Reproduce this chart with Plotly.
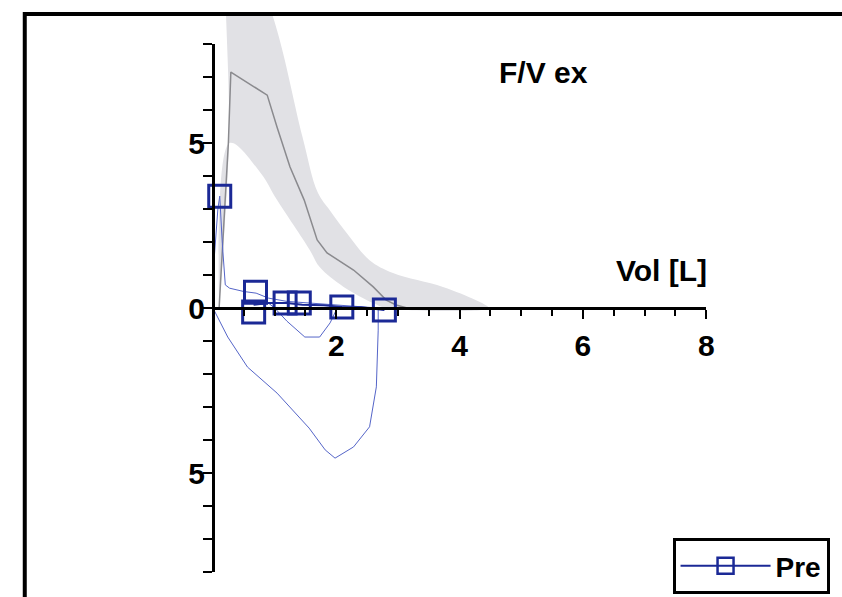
import plotly.graph_objects as go

# ---------------- data ----------------
# predicted expiratory flow-volume curve (grey line)
pred_vol = [0.10, 0.25, 0.29, 0.88, 1.04, 1.25, 1.48, 1.69, 1.85, 2.28, 2.60, 2.81, 2.97, 3.15]
pred_flow = [0.0, 5.0, 7.15, 6.45, 5.48, 4.27, 3.27, 2.06, 1.67, 1.15, 0.64, 0.24, 0.09, 0.0]

# predicted normal range (grey band)
band_upper_vol = [0.10, 0.26, 0.27, 0.96, 1.45, 1.70, 1.90, 2.20, 2.54, 2.92, 3.73, 4.26, 4.47]
band_upper_flow = [0.0, 5.0, 12.0, 8.9, 5.2, 3.5, 2.95, 2.2, 1.45, 1.06, 0.64, 0.24, 0.0]
band_lower_vol = [0.10, 0.27, 0.77, 1.04, 1.57, 1.73, 2.12, 2.60, 2.81]
band_lower_flow = [0.0, 5.0, 4.1, 3.27, 1.76, 1.24, 0.64, 0.15, 0.0]

# measured loop "Pre" (thin blue line)
loop_vol = [0.0, 0.02, 0.08, 0.11, 0.15, 0.20, 0.27, 0.50, 0.70, 0.90, 1.20, 1.60, 2.10, 2.50, 2.68,
            2.68, 2.68, 2.65, 2.54, 2.28, 1.98, 1.82, 1.56, 1.04, 0.56, 0.24, 0.05, 0.0]
loop_flow = [0.0, 1.5, 3.0, 3.39, 2.0, 0.7, 0.6, 0.5, 0.45, 0.3, 0.2, 0.15, 0.08, 0.03, 0.0,
             -0.06, -0.67, -2.39, -3.6, -4.21, -4.55, -4.30, -3.64, -2.58, -1.79, -0.88, -0.2, 0.0]

# second, smaller manoeuvre
inner_vol = [0.66, 0.90, 1.00, 1.20, 1.49, 1.73, 1.90, 2.00, 2.09, 2.40, 2.78]
inner_flow = [0.10, 0.15, 0.0, -0.4, -0.88, -0.88, -0.45, -0.06, 0.03, 0.02, -0.06]
effort2_vol = [0.66, 0.90, 1.20, 1.45, 1.80, 2.09, 2.40, 2.78]
effort2_flow = [0.10, 0.15, 0.15, 0.10, 0.08, 0.03, 0.02, -0.06]

# square markers on the measured curves
marker_vol = [0.11, 0.69, 0.66, 1.17, 1.40, 2.09, 2.78]
marker_flow = [3.39, 0.48, -0.12, 0.15, 0.15, 0.03, -0.06]

x_tick_vals = [2, 4, 6, 8]
x_tick_text = ["2", "4", "6", "8"]
x_minor_vals = [0.5 * i for i in range(1, 17)]
y_tick_vals = [-5, 0, 5]
y_tick_text = ["5", "0", "5"]
y_minor_vals = list(range(-8, 9))

series_name = "Pre"
title_text = "F/V ex"
x_title = "Vol [L]"

# ---------------- layout geometry ----------------
W, H = 842, 597
TOP = 13                              # frame top in window pixels
X0_PX, PX_PER_L = 215, 62.25          # window pixel of vol 0, pixels per litre
Y0_PX, PX_PER_LS = 308, 33.0          # window pixel of flow 0, pixels per L/s


def px_x(px):
    return px / W


def px_y(py):
    return (H - py) / (H - TOP)


x_range = [-X0_PX / PX_PER_L, (W - X0_PX) / PX_PER_L]
y_range = [(Y0_PX - H) / PX_PER_LS, (Y0_PX - TOP) / PX_PER_LS]

FONT = "Liberation Sans, Arial, sans-serif"
NAVY = "#1b2996"
FS = 30

fig = go.Figure()

band_x = band_upper_vol + band_lower_vol[::-1]
band_y = band_upper_flow + band_lower_flow[::-1]
fig.add_trace(go.Scatter(x=band_x, y=band_y, mode="lines", fill="toself",
                         fillcolor="#e1e1e5", line=dict(width=0, color="#e1e1e5"),
                         line_shape="spline", showlegend=False, hoverinfo="skip"))
fig.add_trace(go.Scatter(x=pred_vol, y=pred_flow, mode="lines",
                         line=dict(color="#8a8a8e", width=1.5), showlegend=False))
fig.add_trace(go.Scatter(x=loop_vol, y=loop_flow, mode="lines",
                         line=dict(color="#5565c8", width=1), showlegend=False))
fig.add_trace(go.Scatter(x=inner_vol, y=inner_flow, mode="lines",
                         line=dict(color="#5565c8", width=1), showlegend=False))
fig.add_trace(go.Scatter(x=effort2_vol, y=effort2_flow, mode="lines",
                         line=dict(color=NAVY, width=2), showlegend=False))
fig.add_trace(go.Scatter(x=marker_vol, y=marker_flow, mode="markers",
                         marker=dict(symbol="square-open", size=22, color=NAVY,
                                     line=dict(width=3, color=NAVY)),
                         showlegend=False))
# legend entry for the measured series
fig.add_trace(go.Scatter(x=[None], y=[None], mode="lines+markers", name=series_name,
                         line=dict(color=NAVY, width=2),
                         marker=dict(symbol="square-open", size=16, color=NAVY,
                                     line=dict(width=2.5, color=NAVY))))
# anchor trace for the visible crossing axes
fig.add_trace(go.Scatter(x=[None], y=[None], xaxis="x2", yaxis="y2",
                         showlegend=False, hoverinfo="skip"))

fig.update_layout(
    width=W, height=H,
    margin=dict(l=0, r=0, t=TOP, b=0),
    paper_bgcolor="white", plot_bgcolor="rgba(0,0,0,0)",
    font=dict(family=FONT, size=FS, color="black", weight="bold"),
    xaxis=dict(domain=[0, 1], range=x_range, visible=False),
    yaxis=dict(domain=[0, 1], range=y_range, visible=False),
    xaxis2=dict(domain=[px_x(X0_PX), px_x(X0_PX + 8 * PX_PER_L)], range=[0, 8],
                anchor="free", position=px_y(Y0_PX),
                showline=True, linecolor="black", linewidth=3,
                showgrid=False, zeroline=False,
                ticks="outside", ticklen=9, tickwidth=2, tickcolor="black",
                tickvals=x_tick_vals, ticktext=x_tick_text,
                tickfont=dict(family=FONT, size=FS, color="black", weight="bold"),
                ticklabelstandoff=1,
                minor=dict(tickvals=x_minor_vals, ticks="outside", ticklen=6,
                           tickwidth=2, tickcolor="black", showgrid=False)),
    yaxis2=dict(domain=[px_y(Y0_PX + 8 * PX_PER_LS), px_y(Y0_PX - 8 * PX_PER_LS)],
                range=[-8, 8], anchor="free", position=px_x(X0_PX),
                showline=True, linecolor="black", linewidth=3,
                showgrid=False, zeroline=False,
                ticks="outside", ticklen=9, tickwidth=2, tickcolor="black",
                tickvals=y_tick_vals, ticktext=y_tick_text,
                tickfont=dict(family=FONT, size=FS, color="black", weight="bold"),
                ticklabelstandoff=-8,
                minor=dict(tickvals=y_minor_vals, ticks="outside", ticklen=9,
                           tickwidth=2, tickcolor="black", showgrid=False)),
    showlegend=True,
    legend=dict(x=px_x(679), y=px_y(594), xanchor="left", yanchor="bottom",
                bgcolor="white", bordercolor="black", borderwidth=3,
                itemwidth=90,
                font=dict(family=FONT, size=28, color="black", weight="bold")),
    annotations=[
        dict(text=title_text, x=px_x(549), y=px_y(72), xref="paper", yref="paper",
             showarrow=False, xanchor="center", yanchor="middle",
             font=dict(family=FONT, size=FS, color="black", weight="bold")),
        dict(text=x_title, x=px_x(668), y=px_y(270), xref="paper", yref="paper",
             showarrow=False, xanchor="center", yanchor="middle",
             font=dict(family=FONT, size=FS, color="black", weight="bold")),
    ],
    shapes=[
        dict(type="rect", xref="paper", yref="paper",
             x0=px_x(25), x1=1.05, y0=-0.05, y1=px_y(TOP + 1),
             line=dict(color="black", width=4), fillcolor="rgba(0,0,0,0)", layer="above"),
    ],
)

fig.write_html("out.html",
               config={"displayModeBar": False},
               post_script="document.body.style.margin='0';document.body.style.overflow='hidden';")
